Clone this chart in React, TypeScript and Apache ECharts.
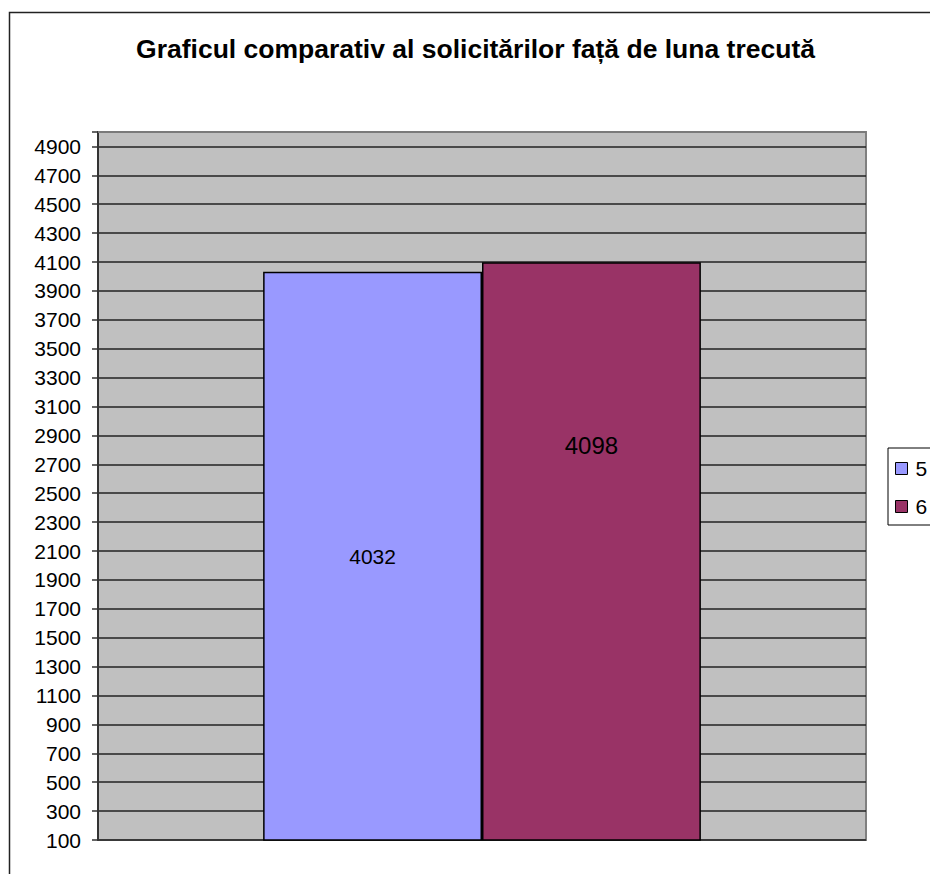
import React, { useEffect, useRef } from "react";
import * as echarts from "echarts";

const titleText = "Graficul comparativ al solicitărilor față de luna trecută";
const categories = [""];
const seriesNames = ["5", "6"];
const seriesValues = [[4032], [4098]];
const seriesColors = ["#9999FF", "#993366"];
const yMin = 100;
const yMax = 5000;
const yStep = 200;

export default function App() {
  const ref = useRef<HTMLDivElement>(null);
  useEffect(() => {
    if (!ref.current) return;
    const chart = echarts.init(ref.current, undefined, { renderer: "svg" });
    const font = "'Liberation Sans', Arial, sans-serif";
    chart.setOption({
      animation: false,
      backgroundColor: "#FFFFFF",
      textStyle: { fontFamily: font },
      title: {
        text: titleText,
        left: 475.5,
        textAlign: "center",
        top: 35,
        padding: 0,
        textStyle: { fontFamily: font, fontSize: 26.5, fontWeight: "bold", color: "#000" },
      },
      legend: {
        orient: "vertical",
        left: 888,
        top: 448,
        padding: [10, 20, 8, 7],
        itemWidth: 12,
        itemHeight: 12,
        itemGap: 17,
        borderColor: "#000",
        borderWidth: 1,
        icon: "rect",
        itemStyle: { borderColor: "#000", borderWidth: 1 },
        textStyle: { fontFamily: font, fontSize: 21, lineHeight: 21, color: "#000", padding: [0, 0, 0, 3] },
        data: seriesNames,
      },
      grid: {
        left: 98,
        top: 132,
        right: 64,
        bottom: 34,
        show: true,
        backgroundColor: "#C0C0C0",
        borderColor: "#808080",
        borderWidth: 2,
      },
      xAxis: {
        type: "category",
        data: categories,
        axisLine: { show: false },
        axisTick: { show: false },
        axisLabel: { show: false },
      },
      yAxis: {
        type: "value",
        min: yMin,
        max: yMax,
        interval: yStep,
        axisLine: { show: true, lineStyle: { color: "#333", width: 2 } },
        axisTick: { show: true, length: 6, lineStyle: { color: "#333", width: 1.5 } },
        axisLabel: {
          margin: 17,
          fontFamily: font,
          fontSize: 21,
          color: "#000",
          formatter: (v: number) => (v === yMax ? "" : String(v)),
        },
        splitLine: { show: true, lineStyle: { color: "#222", width: 1.5 } },
      },
      series: [
        {
          name: seriesNames[0],
          type: "bar",
          data: seriesValues[0],
          barGap: "0%",
          barCategoryGap: "43%",
          itemStyle: { color: seriesColors[0], borderColor: "#000", borderWidth: 1.5 },
          label: {
            show: true,
            position: "inside",
            fontFamily: font,
            fontSize: 21,
            color: "#000",
          },
        },
        {
          name: seriesNames[1],
          type: "bar",
          data: seriesValues[1],
          barGap: "0%",
          barCategoryGap: "43%",
          itemStyle: { color: seriesColors[1], borderColor: "#000", borderWidth: 1.5 },
          label: {
            show: true,
            position: ["50%", "31.7%"],
            align: "center",
            verticalAlign: "middle",
            fontFamily: font,
            fontSize: 24,
            color: "#000",
          },
        },
      ],
      graphic: [
        {
          type: "rect",
          z: 100,
          silent: true,
          shape: { x: 9.5, y: 12.5, width: 1000, height: 1000 },
          style: { fill: "none", stroke: "#222", lineWidth: 1.5 },
        },
        {
          type: "line",
          z: 100,
          silent: true,
          shape: { x1: 98, y1: 132, x2: 866, y2: 132 },
          style: { stroke: "#909090", lineWidth: 1.5 },
        },
      ],
    });
    return () => chart.dispose();
  }, []);
  return (
    <div
      ref={ref}
      style={{ position: "absolute", left: 0, top: 0, width: 930, height: 874 }}
    />
  );
}
